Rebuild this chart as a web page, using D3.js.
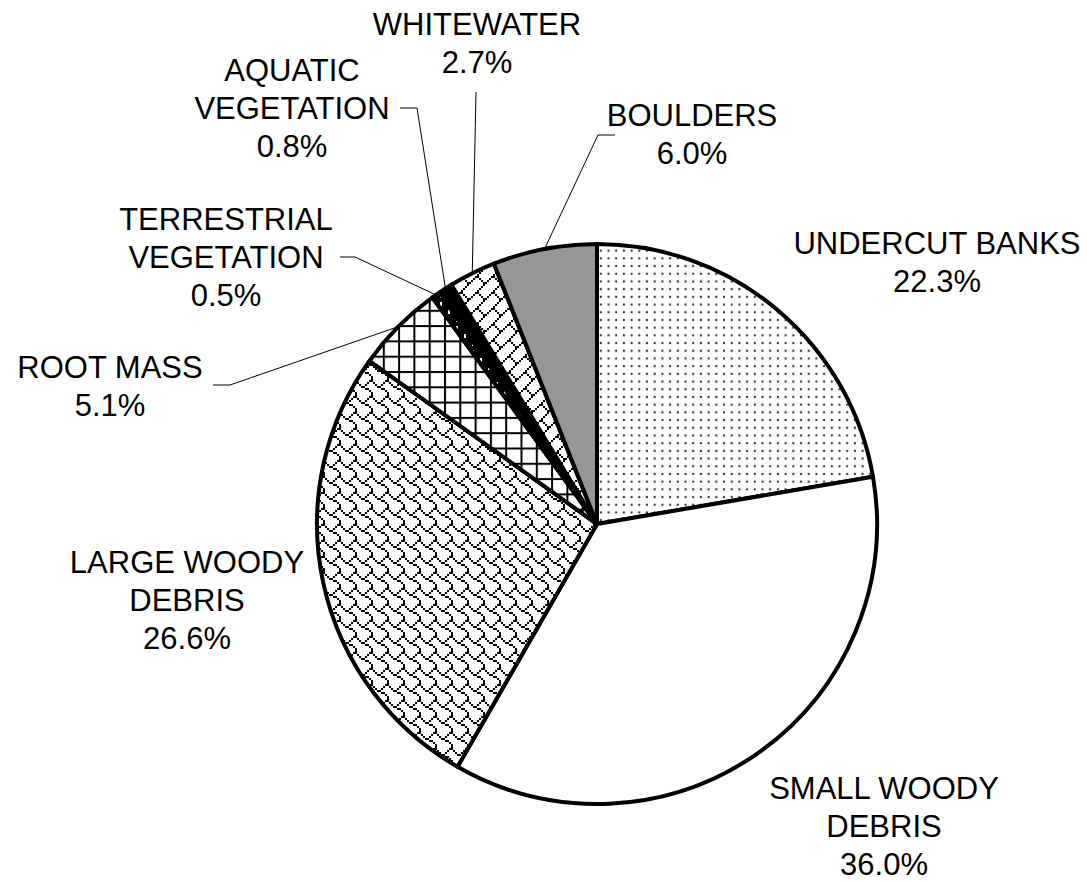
<!DOCTYPE html>
<html>
<head>
<meta charset="utf-8">
<script src="https://cdn.jsdelivr.net/npm/d3@7"></script>
<style>
  html, body { margin: 0; padding: 0; background: #fff; }
  svg { display: block; }
  text { font-family: Arial, "Liberation Sans", sans-serif; fill: #000; }
</style>
</head>
<body>
<svg id="chart" width="1087" height="883"></svg>
<script>
// Cover types, clockwise from 12 o'clock
const categories = [
  ["UNDERCUT BANKS"],
  ["SMALL WOODY", "DEBRIS"],
  ["LARGE WOODY", "DEBRIS"],
  ["ROOT MASS"],
  ["TERRESTRIAL", "VEGETATION"],
  ["AQUATIC", "VEGETATION"],
  ["WHITEWATER"],
  ["BOULDERS"]
];
const percents = [22.3, 36.0, 26.6, 5.1, 0.5, 0.8, 2.7, 6.0];
const fills = ["dots", "white", "shingle", "grid", "dashblack", "black", "brick", "gray"];

// Label block placement: centre x, centre y of first line, optional leader elbow
const labelLayout = [
  { x: 937, y: 243 },
  { x: 884, y: 788 },
  { x: 187, y: 562 },
  { x: 110, y: 367, leader: [[213, 385], [230, 385]] },
  { x: 226, y: 219, leader: [[340, 257], [355, 257]] },
  { x: 292, y: 70,  leader: [[400, 108], [417, 108]] },
  { x: 477, y: 24,  leader: [[476, 92]] },
  { x: 692, y: 115, leader: [[615, 135], [598, 135]] }
];

const W = 1087, H = 883;
const cx = 597, cy = 524, R = 280;
const fontSize = 31, lineH = 38;

const svg = d3.select("#chart");
const defs = svg.append("defs");

// Bitmap hatch helper: 8x8 bit rows drawn at 2x
function bitPattern(id, rows, fg, bg, scale) {
  const s = scale || 2;
  const p = defs.append("pattern").attr("id", id)
    .attr("patternUnits", "userSpaceOnUse")
    .attr("width", 8 * s).attr("height", 8 * s);
  p.append("rect").attr("width", 8 * s).attr("height", 8 * s).attr("fill", bg);
  rows.forEach((row, y) => {
    for (let x = 0; x < 8; x++) {
      if (row & (0x80 >> x)) {
        p.append("rect").attr("x", x * s).attr("y", y * s)
          .attr("width", s).attr("height", s).attr("fill", fg)
          .attr("shape-rendering", "crispEdges");
      }
    }
  });
}

// dotted fill
const dp = defs.append("pattern").attr("id", "dots")
  .attr("patternUnits", "userSpaceOnUse").attr("width", 7.7).attr("height", 7.7);
dp.append("rect").attr("width", 7.7).attr("height", 7.7).attr("fill", "#fff");
dp.append("circle").attr("cx", 3.8).attr("cy", 3.8).attr("r", 1.15).attr("fill", "#333");

bitPattern("shingle", [0x03, 0x84, 0x48, 0x30, 0x0C, 0x02, 0x01, 0x01], "#000", "#fff");
bitPattern("brick", [0x01, 0x02, 0x04, 0x08, 0x18, 0x24, 0x42, 0x81], "#000", "#fff");

// large grid
const gp = defs.append("pattern").attr("id", "grid")
  .attr("patternUnits", "userSpaceOnUse").attr("width", 15.3).attr("height", 15.3);
gp.append("rect").attr("width", 15.3).attr("height", 15.3).attr("fill", "#fff");
gp.append("rect").attr("width", 15.3).attr("height", 2).attr("fill", "#000");
gp.append("rect").attr("width", 2).attr("height", 15.3).attr("fill", "#000");

// dark fill with light dashes
const bp = defs.append("pattern").attr("id", "dashblack")
  .attr("patternUnits", "userSpaceOnUse").attr("width", 8).attr("height", 8);
bp.append("rect").attr("width", 8).attr("height", 8).attr("fill", "#000");
bp.append("rect").attr("x", 3).attr("y", 2).attr("width", 2).attr("height", 4).attr("fill", "#fff");

const fillFor = k => ({
  white: "#fff", black: "#000", gray: "#969696"
}[k] || `url(#${k})`);

const data = percents.map((v, i) => ({ v, i }));
const pie = d3.pie().sort(null).value(d => d.v).startAngle(0).endAngle(2 * Math.PI);
const arcs = pie(data);
const arc = d3.arc().innerRadius(0).outerRadius(R);

const g = svg.append("g").attr("transform", `translate(${cx},${cy})`);
g.selectAll("path.slice").data(arcs).join("path")
  .attr("class", "slice")
  .attr("d", arc)
  .attr("fill", d => fillFor(fills[d.data.i]))
  .attr("stroke", "#000")
  .attr("stroke-width", 4)
  .attr("stroke-linejoin", "round");

// leader lines from label elbow to the slice's outer midpoint
arcs.forEach((d, i) => {
  const L = labelLayout[i];
  if (!L.leader) return;
  const mid = (d.startAngle + d.endAngle) / 2;
  const px = cx + R * Math.sin(mid), py = cy - R * Math.cos(mid);
  const pts = L.leader.concat([[px, py]]);
  svg.append("path")
    .attr("d", d3.line()(pts))
    .attr("fill", "none")
    .attr("stroke", "#000")
    .attr("stroke-width", 1);
});

// labels: category lines then percentage
arcs.forEach((d, i) => {
  const L = labelLayout[i];
  const lines = categories[i].concat([percents[i].toFixed(1) + "%"]);
  const t = svg.append("text")
    .attr("text-anchor", "middle")
    .attr("font-size", fontSize);
  lines.forEach((s, k) => {
    t.append("tspan")
      .attr("x", L.x)
      .attr("y", L.y + k * lineH + fontSize * 0.36)
      .text(s);
  });
});
</script>
</body>
</html>
